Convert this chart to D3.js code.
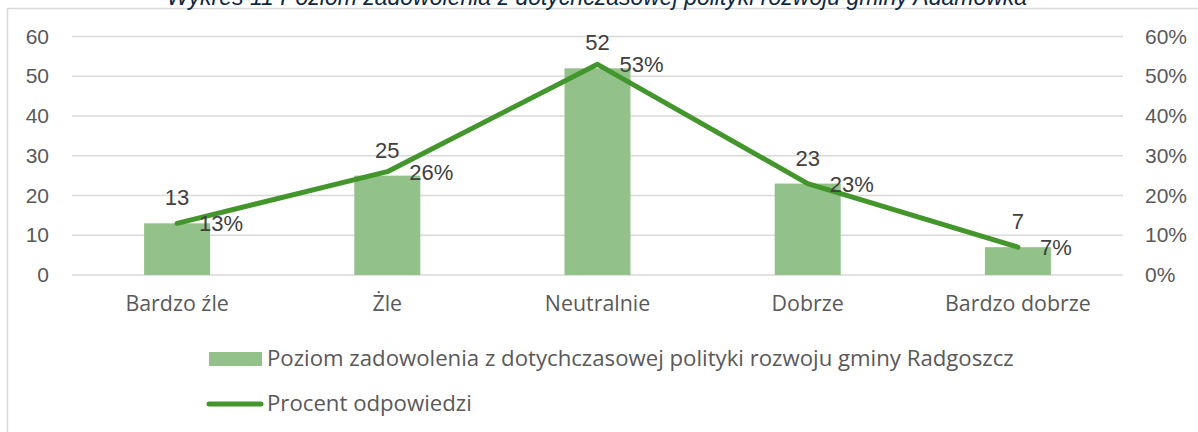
<!DOCTYPE html>
<html>
<head>
<meta charset="utf-8">
<script src="https://cdn.jsdelivr.net/npm/d3@7"></script>
<style>
  body { margin: 0; background: #fff; }
  svg { display: block; font-family: "Liberation Sans", Arial, sans-serif; }
</style>
</head>
<body>
<svg id="chart" width="1198" height="432"></svg>
<script>
// chart data
const categories = ['Bardzo źle', 'Żle', 'Neutralnie', 'Dobrze', 'Bardzo dobrze'];
const counts = [13, 25, 52, 23, 7];
const percents = [0.13, 0.26, 0.53, 0.23, 0.07];
const countTicks = [0, 10, 20, 30, 40, 50, 60];
const percentTicks = [0, 0.1, 0.2, 0.3, 0.4, 0.5, 0.6];
const barSeriesName = 'Poziom zadowolenia z dotychczasowej polityki rozwoju gminy Radgoszcz';
const lineSeriesName = 'Procent odpowiedzi';
const titleText = 'Wykres 11 Poziom zadowolenia z dotychczasowej polityki rozwoju gminy Adamówka';

const svg = d3.select('#chart');
const textColor = '#595959';
const gridColor = '#d9d9d9';
const barColor = '#93c18a';
const lineColor = '#43962b';

const margin = { top: 36.5, left: 72, right: 75, bottom: 157 };
const width = 1198, height = 432;

// chart frame (only left and top edges fall inside the window)
svg.append('rect')
  .attr('x', 7.5).attr('y', 8.5)
  .attr('width', 1400).attr('height', 600)
  .attr('fill', 'none')
  .attr('stroke', gridColor)
  .attr('stroke-width', 1.5);

// title, clipped at the top like in the source
svg.append('text')
  .attr('x', 597).attr('y', 5)
  .attr('text-anchor', 'middle')
  .attr('font-size', 23)
  .attr('font-style', 'italic')
  .attr('fill', '#0e2841')
  .text(titleText);

const x = d3.scaleBand()
  .domain(categories)
  .range([margin.left, width - margin.right])
  .paddingInner(0.686)
  .paddingOuter(0.343);

const yLeft = d3.scaleLinear()
  .domain([0, 60])
  .range([height - margin.bottom, margin.top]);

const yRight = d3.scaleLinear()
  .domain([0, 0.6])
  .range([height - margin.bottom, margin.top]);

// gridlines
svg.append('g')
  .selectAll('line')
  .data(countTicks)
  .join('line')
  .attr('x1', margin.left)
  .attr('x2', width - margin.right)
  .attr('y1', d => yLeft(d))
  .attr('y2', d => yLeft(d))
  .attr('stroke', gridColor)
  .attr('stroke-width', 1.5);

// left axis
const leftAxis = svg.append('g')
  .attr('transform', 'translate(49,0)')
  .call(d3.axisLeft(yLeft).tickValues(countTicks).tickSize(0).tickPadding(0));
leftAxis.select('.domain').remove();
leftAxis.selectAll('text')
  .attr('font-size', 21)
  .attr('font-family', '"Liberation Sans", Arial, sans-serif')
  .attr('fill', textColor);

// right axis
const rightAxis = svg.append('g')
  .attr('transform', 'translate(1145,0)')
  .call(d3.axisRight(yRight).tickValues(percentTicks).tickSize(0).tickPadding(0)
    .tickFormat(d3.format('.0%')));
rightAxis.select('.domain').remove();
rightAxis.selectAll('text')
  .attr('font-size', 21)
  .attr('font-family', '"Liberation Sans", Arial, sans-serif')
  .attr('fill', textColor);

// category labels
svg.append('g')
  .selectAll('text')
  .data(categories)
  .join('text')
  .attr('x', d => x(d) + x.bandwidth() / 2)
  .attr('y', 311)
  .attr('text-anchor', 'middle')
  .attr('font-size', 21.4)
  .attr('font-family', '"Open Sans", sans-serif')
  .attr('fill', textColor)
  .text(d => d);

// bars
svg.append('g')
  .selectAll('rect')
  .data(counts)
  .join('rect')
  .attr('x', (d, i) => x(categories[i]))
  .attr('y', d => yLeft(d))
  .attr('width', x.bandwidth())
  .attr('height', d => yLeft(0) - yLeft(d))
  .attr('fill', barColor);

// bar labels
svg.append('g')
  .selectAll('text')
  .data(counts)
  .join('text')
  .attr('x', (d, i) => x(categories[i]) + x.bandwidth() / 2)
  .attr('y', d => yLeft(d) - 18)
  .attr('text-anchor', 'middle')
  .attr('font-size', 22)
  .attr('fill', '#404040')
  .text(d => d);

// percentage line
const line = d3.line()
  .x((d, i) => x(categories[i]) + x.bandwidth() / 2)
  .y(d => yRight(d));

svg.append('path')
  .datum(percents)
  .attr('d', line)
  .attr('fill', 'none')
  .attr('stroke', lineColor)
  .attr('stroke-width', 5)
  .attr('stroke-linecap', 'round')
  .attr('stroke-linejoin', 'round');

// line labels, to the right of each point
svg.append('g')
  .selectAll('text')
  .data(percents)
  .join('text')
  .attr('x', (d, i) => x(categories[i]) + x.bandwidth() / 2 + 22)
  .attr('y', d => yRight(d) + 8)
  .attr('font-size', 22)
  .attr('fill', '#404040')
  .text(d => d3.format('.0%')(d));

// legend
const legend = svg.append('g');
legend.append('rect')
  .attr('x', 209).attr('y', 352)
  .attr('width', 53).attr('height', 14)
  .attr('fill', barColor);
legend.append('text')
  .attr('x', 267).attr('y', 366)
  .attr('font-size', 22.2)
  .attr('font-family', '"Open Sans", sans-serif')
  .attr('fill', textColor)
  .text(barSeriesName);
legend.append('line')
  .attr('x1', 209).attr('x2', 261)
  .attr('y1', 404).attr('y2', 404)
  .attr('stroke', lineColor)
  .attr('stroke-width', 5)
  .attr('stroke-linecap', 'round');
legend.append('text')
  .attr('x', 267).attr('y', 411)
  .attr('font-size', 22.2)
  .attr('font-family', '"Open Sans", sans-serif')
  .attr('fill', textColor)
  .text(lineSeriesName);
</script>
</body>
</html>
